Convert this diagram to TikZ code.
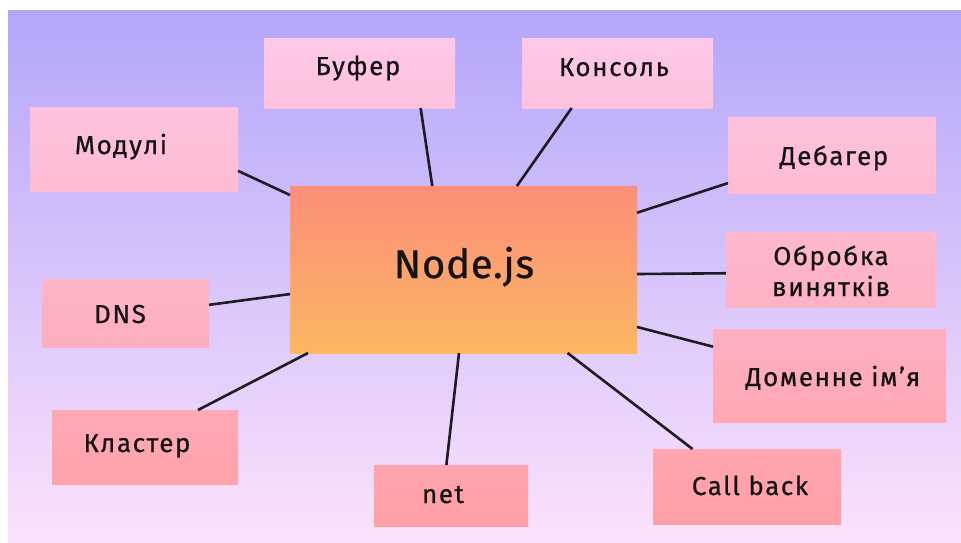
\documentclass[tikz,border=0pt]{standalone}
\usepackage{fontspec}
\setmainfont{Fira Sans}
\newfontfamily\lblfont{Fira Sans}[LetterSpace=6, FakeBold=0.6]
\newfontfamily\njfont{Fira Sans}[LetterSpace=2, FakeBold=0.8]
\usetikzlibrary{calc}
\definecolor{bgT}{RGB}{180,166,250}
\definecolor{bgB}{RGB}{251,226,251}
\definecolor{pkT}{RGB}{253,200,231}
\definecolor{pkB}{RGB}{255,159,166}
\definecolor{njT}{RGB}{252,142,122}
\definecolor{njB}{RGB}{251,183,98}
\definecolor{ln}{RGB}{28,28,34}
\begin{document}
\begin{tikzpicture}[x=1pt,y=-1pt,
  box/.style={rectangle, inner sep=0pt, outer sep=0pt},
  lbl/.style={font=\lblfont\fontsize{26}{30}\selectfont, text=black!92, anchor=base, inner sep=0pt},
  conn/.style={draw=ln, line width=2.6pt},
]
\useasboundingbox (0,0) rectangle (961,542);
\shade[top color=bgT, bottom color=bgB] (8,10) rectangle (961,542);

% boxes
\node[box, minimum width=191pt, minimum height=70pt, top color=pkB!0!pkT, bottom color=pkB!14!pkT] (buf) at (359.5,73) {};
\node[box, minimum width=191pt, minimum height=70pt, top color=pkB!0!pkT, bottom color=pkB!14!pkT] (kon) at (617.5,73) {};
\node[box, minimum width=208pt, minimum height=84pt, top color=pkB!14!pkT, bottom color=pkB!31!pkT] (mod) at (134,149) {};
\node[box, minimum width=208pt, minimum height=76pt, top color=pkB!16!pkT, bottom color=pkB!32!pkT] (deb) at (832,155) {};
\node[box, minimum width=347pt, minimum height=167pt, top color=njT, bottom color=njB] (nj) at (463.5,269.5) {};
\node[box, minimum width=210pt, minimum height=75pt, top color=pkB!40!pkT, bottom color=pkB!55!pkT] (obr) at (831,269.5) {};
\node[box, minimum width=167pt, minimum height=68pt, top color=pkB!49!pkT, bottom color=pkB!63!pkT] (dns) at (125.5,313) {};
\node[box, minimum width=233pt, minimum height=93pt, top color=pkB!60!pkT, bottom color=pkB!79!pkT] (dom) at (829.5,375.5) {};
\node[box, minimum width=186pt, minimum height=74pt, top color=pkB!76!pkT, bottom color=pkB!92!pkT] (kla) at (145,447) {};
\node[box, minimum width=154pt, minimum height=61pt, top color=pkB!88!pkT, bottom color=pkB!100!pkT] (net) at (451,495.5) {};
\node[box, minimum width=188pt, minimum height=75pt, top color=pkB!84!pkT, bottom color=pkB!100!pkT] (cb) at (747,486.5) {};

% connectors
\draw[conn] ($(mod.north east)!0.76!(mod.south east)$) -- ($(nj.north west)!0.054!(nj.south west)$);
\draw[conn] ($(buf.south west)!0.82!(buf.south east)$) -- ($(nj.north west)!0.41!(nj.north east)$);
\draw[conn] ($(kon.south west)!0.26!(kon.south east)$) -- ($(nj.north west)!0.654!(nj.north east)$);
\draw[conn] ($(deb.north west)!0.87!(deb.south west)$) -- ($(nj.north east)!0.16!(nj.south east)$);
\draw[conn] ($(obr.north west)!0.55!(obr.south west)$) -- ($(nj.north east)!0.527!(nj.south east)$);
\draw[conn] ($(dom.north west)!0.19!(dom.south west)$) -- ($(nj.north east)!0.844!(nj.south east)$);
\draw[conn] ($(cb.north west)!0.21!(cb.north east)$) -- ($(nj.south west)!0.80!(nj.south east)$);
\draw[conn] ($(net.north west)!0.47!(net.north east)$) -- ($(nj.south west)!0.487!(nj.south east)$);
\draw[conn] ($(kla.north west)!0.785!(kla.north east)$) -- ($(nj.south west)!0.052!(nj.south east)$);
\draw[conn] ($(dns.north east)!0.38!(dns.south east)$) -- ($(nj.north west)!0.647!(nj.south west)$);

% labels
\node[lbl] (tbuf) at (358,75) {Буфер};
\node[lbl] (tkon) at (614,76) {Консоль};
\node[lbl] (tmod) at (121,154) {Модулі};
\node[lbl] (tdeb) at (834,165) {Дебагер};
\node[lbl, font=\njfont\fontsize{40}{48}\selectfont] (tnj) at (464,278) {Node.js};
\node[lbl] (tobr1) at (831,265) {Обробка};
\node[lbl] (tobr2) at (831,296) {винятків};
\node[lbl] (tdns) at (120,323) {DNS};
\node[lbl] (tdom) at (833,386) {Доменне ім’я};
\node[lbl] (tkla) at (137,452) {Кластер};
\node[lbl] (tnet) at (443,503) {net};
\node[lbl] (tcb) at (750,495) {Call back};
\end{tikzpicture}
\end{document}
